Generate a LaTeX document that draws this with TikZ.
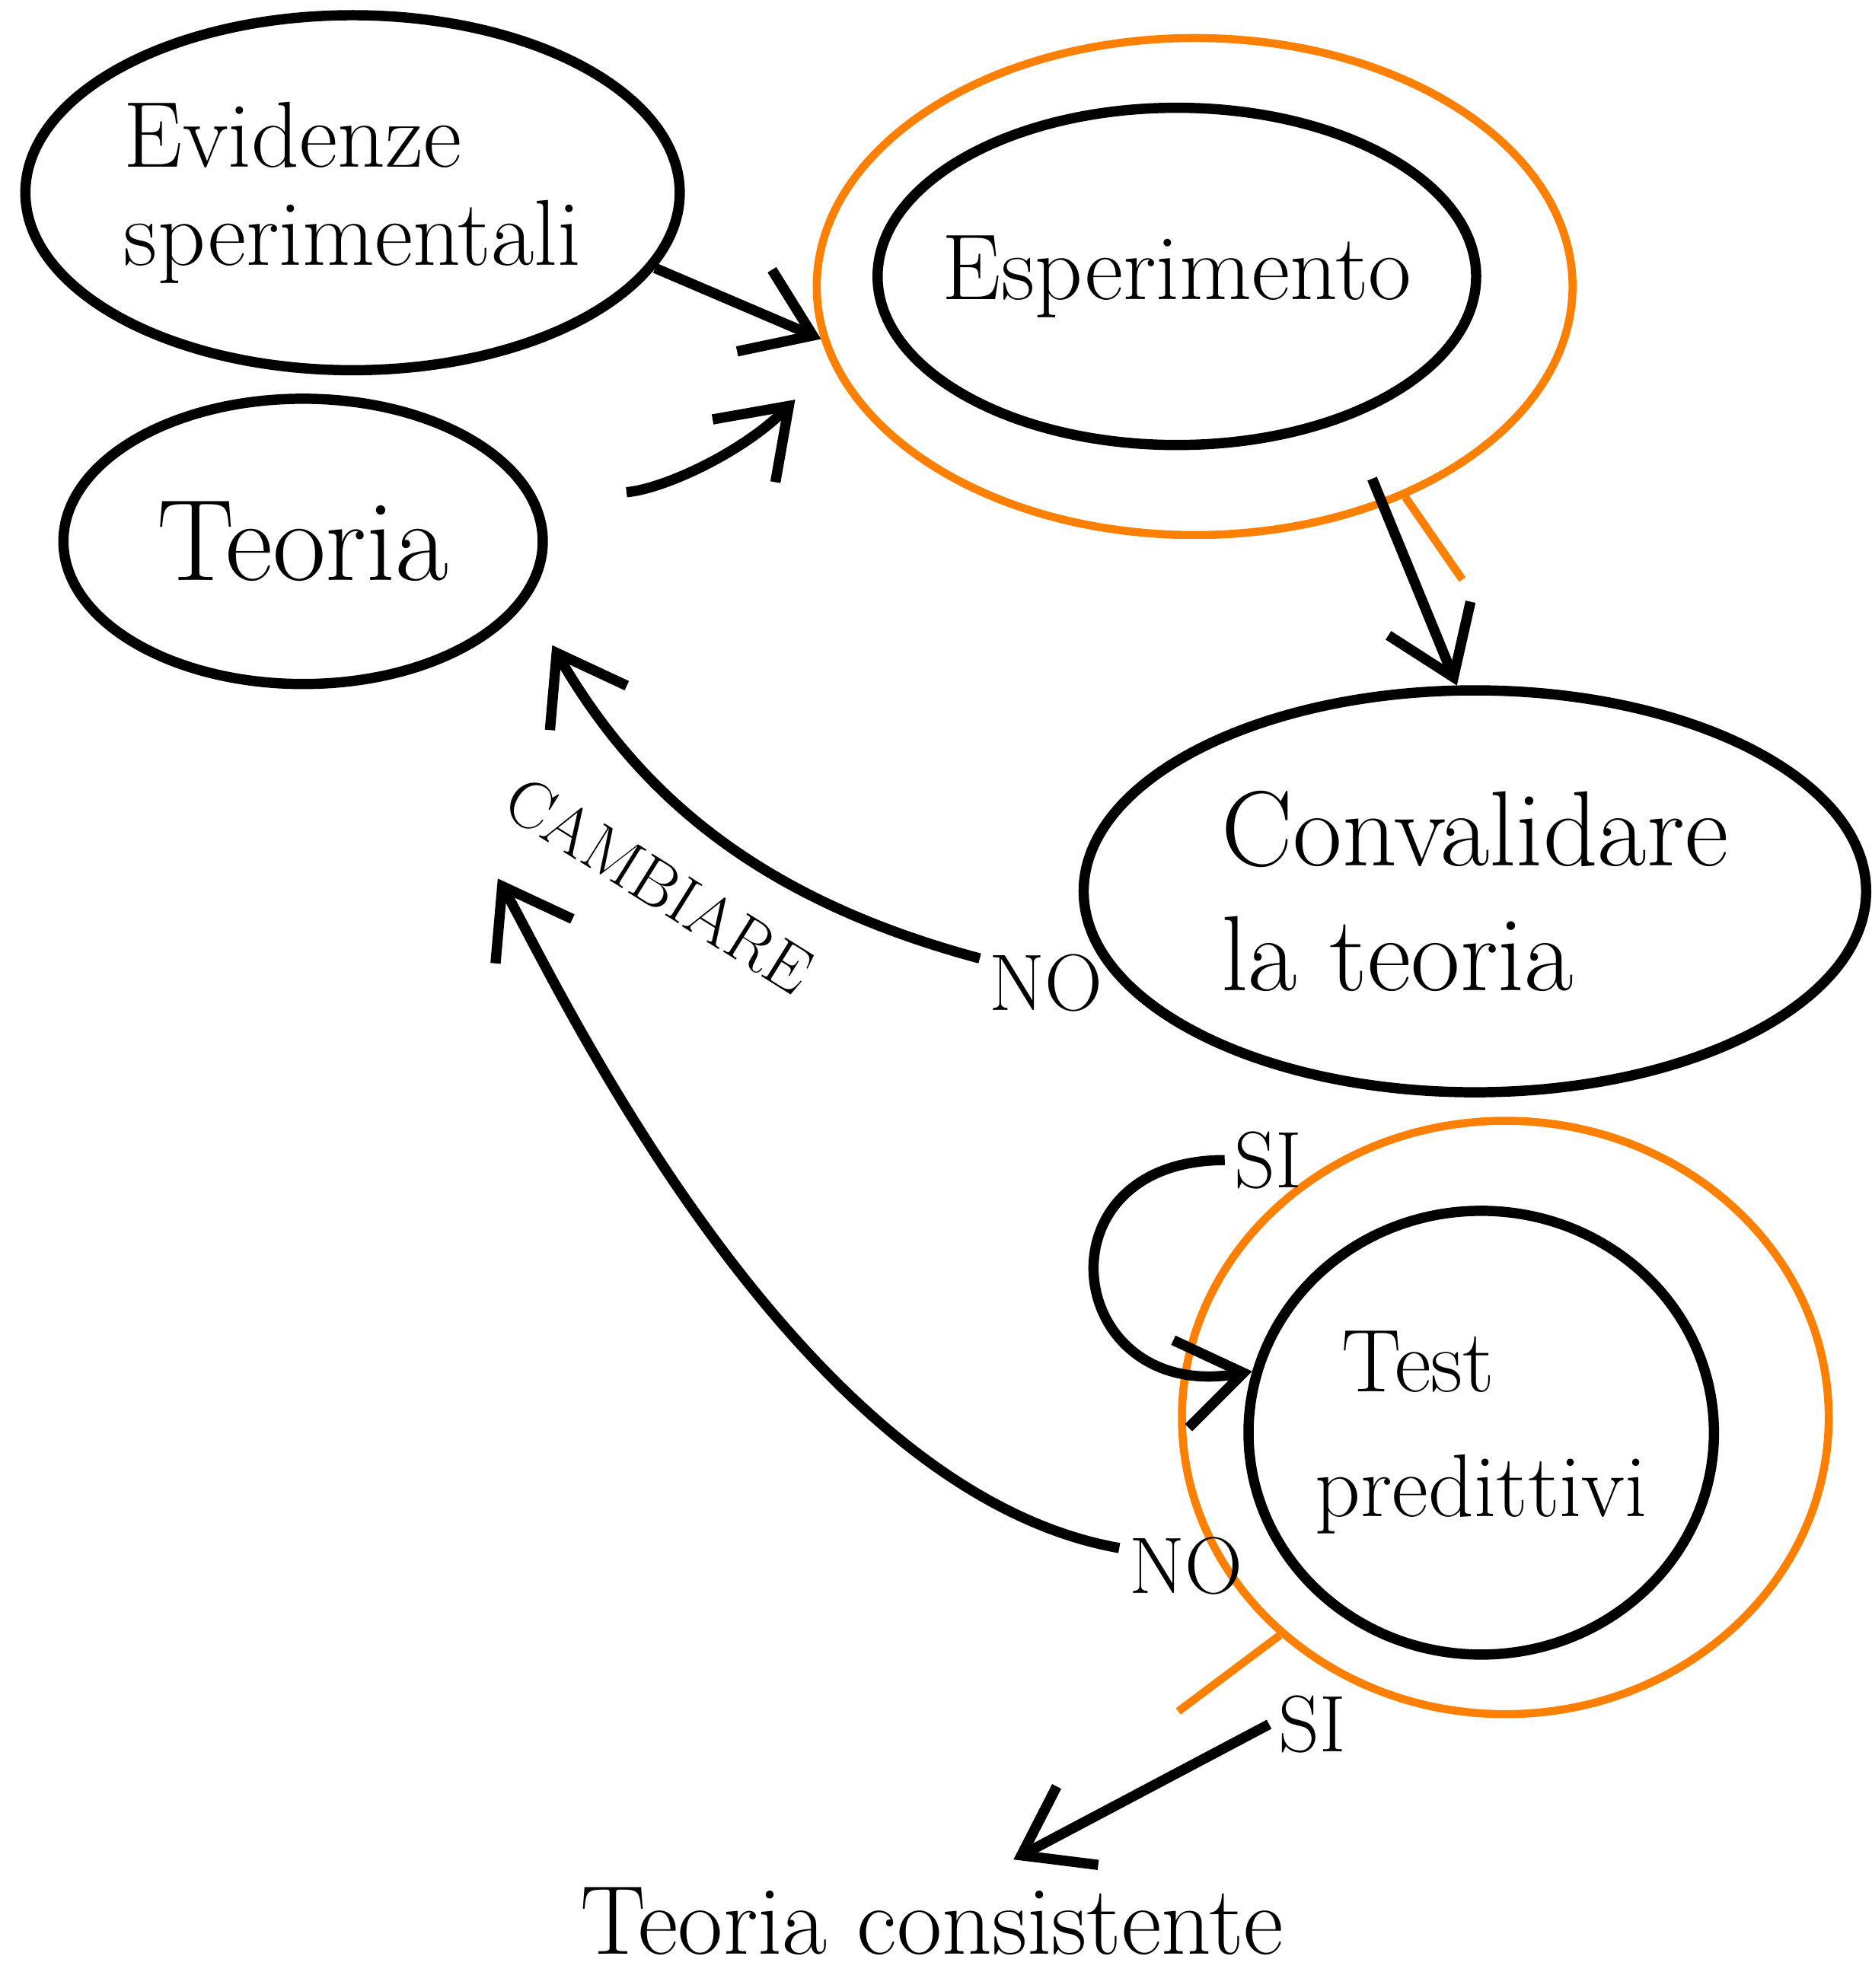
\documentclass[tikz,border=0pt]{standalone}
\usetikzlibrary{shapes.geometric, arrows.meta, positioning}
\definecolor{penorange}{HTML}{FF8000}

\begin{document}
\begin{tikzpicture}[
    bubble/.style={
        ellipse,
        draw=black,
        line width=2.3pt,
        inner xsep=-8mm,
        inner ysep=0pt,
        align=left,
        font=\fontsize{21}{24}\selectfont
    },
    ring/.style={
        ellipse,
        draw=penorange,
        line width=1.8pt,
        inner sep=0pt
    },
    link/.style={
        -{Straight Barb[length=5mm, width=7mm]},
        line width=2.3pt,
        draw=black
    },
    hilite/.style={
        line width=1.8pt,
        draw=penorange
    },
    answer/.style={
        font=\fontsize{18}{20}\selectfont,
        inner sep=2pt
    },
    label_text/.style={
        font=\fontsize{15}{17}\selectfont,
        inner sep=1pt
    }
]
    \useasboundingbox (0,0) rectangle (14.76,-15.68);

    % STATES
    \node[bubble, minimum width=5.16cm, minimum height=2.80cm, font=\fontsize{21}{22}\selectfont] (evidenze) at (2.78,-1.52) {Evidenze\\sperimentali};
    \node[bubble, minimum width=3.78cm, minimum height=2.25cm, font=\fontsize{26}{28}\selectfont] (teoria) at (2.39,-4.27) {Teoria};
    \node[bubble, minimum width=4.72cm, minimum height=2.66cm] (esperimento) at (9.28,-2.18) {Esperimento};
    \node[bubble, minimum width=6.17cm, minimum height=3.17cm, font=\fontsize{24}{28}\selectfont] (convalidare) at (11.63,-7.03) {Convalidare\\la teoria};
    \node[bubble, minimum width=3.67cm, minimum height=3.50cm, font=\fontsize{20}{28}\selectfont] (test) at (11.68,-11.30) {\ Test\\predittivi};
    \node[font=\fontsize{22}{24}\selectfont] (consistente) at (7.35,-15.15) {Teoria consistente};

    % ORANGE HIGHLIGHTS
    \node[ring, minimum width=5.96cm, minimum height=3.92cm] (espring) at (9.42,-2.26) {};
    \node[ring, minimum width=5.10cm, minimum height=4.68cm] (testring) at (11.87,-11.18) {};

    % ANSWERS
    \node[answer] (no1) at (8.25,-7.75) {NO};
    \node[answer] (si1) at (10.00,-9.15) {SI};
    \node[answer] (no2) at (9.35,-12.35) {NO};
    \node[answer] (si2) at (10.35,-13.60) {SI};
    \node[label_text, rotate=-32] (cambiare) at (5.20,-6.98) {CAMBIARE};

    % MAIN FLOW
    \draw[link] (evidenze.-14) -- (espring.188);
    \draw[link, shorten <=7mm, shorten >=4mm] (teoria.10) to[out=5, in=-135] (espring.192);
    \draw[link, shorten <=5mm] (esperimento.-40) -- (convalidare.95);
    \draw[hilite] (espring.-45) -- ++(0.45,-0.65);

    % BACK TO THE THEORY
    \draw[link, shorten >=4mm] (no1.160) to[out=165, in=-60] (teoria.-15);
    \draw[link, shorten >=1.8cm] (no2.165) to[out=170, in=-60, looseness=0.75] (teoria.-60);

    % TEST
    \draw[link] (si1.west) to[out=180, in=190, looseness=2.3] (test.165);
    \draw[link, shorten >=2mm] (si2.west) -- (consistente.40);
    \draw[hilite] (testring.224) -- ++(-0.8,-0.6);

\end{tikzpicture}
\end{document}
